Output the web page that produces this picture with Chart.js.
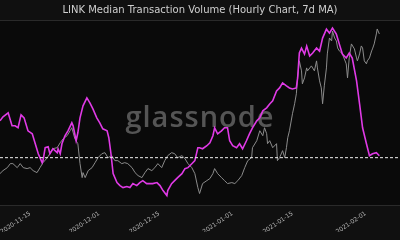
<!DOCTYPE html>
<html>
<head>
<meta charset="utf-8">
<script src="https://cdn.jsdelivr.net/npm/chart.js@4"></script>
<style>
  html, body { margin: 0; padding: 0; background: #101010; }
  #wrap { width: 400px; height: 240px; position: relative; }
</style>
</head>
<body>
<div id="wrap"><canvas id="chart"></canvas></div>
<script>
// ------------------- DATA -------------------
// x values are days since 2020-11-15
const tickDays = [0, 16, 30, 47, 61, 78];
const tickLabels = ['2020-11-15', '2020-12-01', '2020-12-15', '2021-01-01', '2021-01-15', '2021-02-01'];

// median transaction volume (LINK), 7d MA
const volumeDays = [-7.0, -6.3, -5.1, -4.2, -3.5, -2.8, -2.1, -1.4, -0.5, 0.5, 1.2, 1.9, 2.8, 3.0, 3.5, 4.2, 4.6, 5.3, 6.3, 6.5, 7.0, 7.4, 8.1, 8.8, 9.7, 10.0, 10.7, 11.1, 11.6, 12.3, 13.2, 13.9, 14.6, 15.5, 16.2, 16.9, 17.9, 18.3, 18.8, 19.3, 20.2, 20.9, 21.6, 22.5, 23.2, 23.9, 24.8, 25.5, 26.2, 27.1, 27.8, 28.5, 29.5, 30.2, 30.9, 31.8, 32.0, 32.9, 33.6, 34.3, 35.3, 36.0, 36.7, 37.6, 38.3, 39.0, 39.4, 40.1, 41.1, 41.8, 42.5, 42.9, 43.6, 44.5, 45.2, 45.9, 46.4, 47.1, 48.0, 48.7, 49.4, 50.3, 51.0, 51.7, 52.7, 53.4, 54.1, 55.0, 55.7, 56.4, 57.3, 58.0, 58.7, 59.6, 60.3, 61.0, 61.9, 62.2, 62.6, 63.1, 63.8, 64.3, 65.0, 65.7, 66.6, 67.3, 68.0, 68.9, 69.6, 70.3, 71.2, 71.9, 72.6, 73.5, 74.2, 74.9, 75.9, 76.6, 77.3, 78.2, 78.9, 79.6, 80.5, 81.2];
const volumeValues = [137.7, 144.2, 150.7, 129.6, 129.6, 126.4, 147.4, 142.6, 121.5, 116.6, 100.4, 84.2, 69.7, 72.9, 94.0, 95.6, 84.2, 92.3, 85.9, 92.3, 84.2, 100.4, 113.4, 121.5, 134.5, 129.6, 105.3, 118.3, 142.6, 162.0, 175.0, 166.9, 157.1, 142.6, 134.5, 124.7, 121.5, 110.2, 84.2, 51.8, 37.3, 32.4, 29.2, 30.8, 29.2, 35.6, 32.4, 37.3, 40.5, 35.6, 35.6, 35.6, 37.3, 32.4, 24.3, 16.2, 24.3, 35.6, 40.5, 45.4, 51.8, 59.9, 61.6, 68.0, 72.9, 94.0, 94.0, 92.3, 97.2, 102.1, 113.4, 126.4, 116.6, 121.5, 126.4, 126.4, 105.3, 97.2, 94.0, 100.4, 92.3, 105.3, 116.6, 126.4, 137.7, 142.6, 153.9, 158.8, 165.2, 170.1, 186.3, 191.2, 199.3, 194.4, 191.2, 189.5, 191.2, 207.4, 247.9, 256.0, 246.2, 259.2, 243.0, 247.9, 256.0, 251.1, 272.2, 286.7, 280.3, 288.4, 278.6, 262.4, 246.2, 239.8, 247.9, 239.8, 202.5, 165.2, 126.4, 100.4, 81.0, 84.2, 85.9, 81.0];

// LINK price (USD)
const priceDays = [-7.0, -6.3, -5.3, -4.6, -4.0, -3.0, -2.3, -1.6, -0.7, 0.0, 0.7, 1.6, 2.3, 3.0, 4.0, 4.6, 5.3, 6.3, 7.0, 7.7, 8.6, 9.3, 9.7, 10.4, 11.1, 11.6, 12.1, 12.3, 12.8, 13.5, 14.4, 15.1, 15.8, 16.7, 17.4, 18.1, 19.0, 19.7, 20.4, 21.3, 22.0, 22.7, 23.7, 24.4, 25.1, 26.0, 26.7, 27.4, 28.3, 29.0, 29.7, 30.6, 31.3, 32.0, 32.9, 33.6, 34.3, 35.3, 36.0, 36.7, 37.6, 38.3, 39.0, 39.4, 40.1, 41.1, 41.8, 42.5, 42.9, 43.6, 44.5, 45.2, 45.9, 46.9, 47.6, 48.3, 49.2, 49.9, 50.6, 51.5, 51.7, 52.7, 53.4, 54.1, 54.5, 55.0, 55.2, 55.7, 56.4, 57.3, 57.5, 58.0, 58.7, 59.2, 59.6, 59.9, 60.3, 61.0, 61.5, 61.9, 62.2, 62.6, 63.1, 63.3, 63.8, 64.3, 64.5, 65.4, 66.1, 66.6, 66.8, 67.3, 67.7, 68.0, 68.4, 68.9, 69.1, 69.6, 70.1, 70.3, 70.8, 71.2, 71.5, 71.9, 72.6, 73.5, 73.8, 74.2, 74.7, 75.4, 75.9, 76.1, 76.6, 77.0, 77.3, 77.7, 78.2, 78.4, 78.9, 79.4, 79.6, 80.0, 80.5, 80.7, 81.2];
const priceValues = [12.38, 12.66, 12.94, 13.32, 13.32, 12.94, 13.32, 12.94, 12.85, 12.94, 12.66, 12.47, 12.94, 13.41, 13.88, 14.26, 14.73, 14.82, 15.29, 15.67, 15.95, 16.42, 16.70, 15.67, 15.20, 13.32, 12.00, 12.47, 12.00, 12.66, 12.94, 13.41, 13.88, 14.26, 14.35, 13.88, 14.07, 13.60, 13.60, 13.32, 13.41, 13.32, 12.94, 12.47, 12.19, 12.00, 12.47, 12.85, 12.66, 12.94, 13.32, 12.94, 13.60, 14.07, 14.35, 14.26, 13.88, 14.07, 13.79, 13.32, 12.94, 12.38, 11.06, 10.50, 11.44, 11.72, 11.91, 12.38, 12.85, 12.38, 12.00, 11.72, 11.44, 11.53, 11.44, 11.72, 12.19, 12.94, 13.60, 13.88, 14.82, 15.48, 16.42, 15.95, 16.70, 16.14, 15.20, 15.48, 14.82, 15.20, 13.60, 13.88, 14.54, 13.88, 14.82, 15.76, 16.42, 18.02, 18.96, 19.90, 21.40, 23.00, 22.06, 20.84, 21.40, 22.34, 22.06, 22.53, 22.06, 23.00, 22.34, 21.12, 20.46, 18.96, 20.65, 22.34, 23.66, 25.16, 24.88, 25.82, 25.16, 24.88, 24.22, 23.94, 23.66, 22.72, 21.40, 23.28, 24.60, 24.13, 23.28, 23.00, 23.66, 24.41, 24.22, 23.00, 22.72, 23.00, 23.28, 23.94, 24.13, 24.60, 25.54, 26.01, 25.54];

// reference level (dashed)
const refLevel = 77.8;

// ------------------- HELPERS -------------------
function toPoints(xs, ys) {
    return xs.map((x, i) => ({ x: x, y: ys[i] }));
}

const xMin = -7;
const xMax = 86;

// background, top border and watermark
const framePlugin = {
    id: 'frame',
    beforeDraw(chart) {
        const { ctx, chartArea } = chart;
        ctx.save();
        ctx.fillStyle = '#0a0a0a';
        ctx.fillRect(chartArea.left, chartArea.top, chartArea.right - chartArea.left, chartArea.bottom - chartArea.top);
        ctx.strokeStyle = '#2a2a2a';
        ctx.lineWidth = 1;
        ctx.beginPath();
        ctx.moveTo(chartArea.left, chartArea.top - 0.5);
        ctx.lineTo(chartArea.right, chartArea.top - 0.5);
        ctx.stroke();
        ctx.restore();
    },
    beforeDatasetsDraw(chart) {
        const { ctx, chartArea } = chart;
        ctx.save();
        ctx.font = '600 29px "Open Sans"';
        ctx.letterSpacing = '1px';
        ctx.textAlign = 'center';
        ctx.textBaseline = 'alphabetic';
        ctx.fillStyle = 'rgba(220,220,220,0.36)';
        ctx.fillText('glassnode', (chartArea.left + chartArea.right) / 2, 127);
        ctx.restore();
    }
};

// ------------------- CHART -------------------
new Chart(document.getElementById('chart'), {
    type: 'line',
    data: {
        datasets: [
            {
                label: 'Reference',
                data: toPoints([xMin, xMax], [refLevel, refLevel]),
                yAxisID: 'yVol',
                borderColor: '#f2f2f2',
                borderWidth: 1,
                borderDash: [3, 2],
                pointRadius: 0,
                order: 0
            },
            {
                label: 'Median Transaction Volume',
                data: toPoints(volumeDays, volumeValues),
                yAxisID: 'yVol',
                borderColor: '#e03ae6',
                borderWidth: 1.6,
                pointRadius: 0,
                tension: 0,
                order: 1
            },
            {
                label: 'Price',
                data: toPoints(priceDays, priceValues),
                yAxisID: 'yPrice',
                borderColor: '#8c8c8c',
                borderWidth: 1,
                pointRadius: 0,
                tension: 0,
                order: 2
            }
        ]
    },
    options: {
        responsive: true,
        maintainAspectRatio: false,
        animation: false,
        layout: { padding: { bottom: 8 } },
        plugins: {
            legend: { display: false },
            tooltip: { enabled: false },
            title: {
                display: true,
                text: 'LINK Median Transaction Volume (Hourly Chart, 7d MA)',
                color: '#cfcfcf',
                font: { family: 'DejaVu Sans', size: 10, weight: 'normal' },
                padding: { top: 4, bottom: 5 }
            }
        },
        scales: {
            x: {
                type: 'linear',
                min: xMin,
                max: xMax,
                afterBuildTicks(scale) {
                    scale.ticks = tickDays.map(v => ({ value: v }));
                },
                grid: { display: false },
                border: { display: true, color: '#2a2a2a', width: 1 },
                ticks: {
                    autoSkip: false,
                    minRotation: 34,
                    maxRotation: 34,
                    padding: -3,
                    color: '#b8b8b8',
                    font: { family: 'DejaVu Sans', size: 6, lineHeight: 1 },
                    callback: (value, index) => tickLabels[index]
                }
            },
            yVol: {
                type: 'linear',
                display: false,
                min: 0,
                max: 300
            },
            yPrice: {
                type: 'linear',
                display: false,
                min: 9.37,
                max: 26.76
            }
        }
    },
    plugins: [framePlugin]
});
</script>
</body>
</html>
